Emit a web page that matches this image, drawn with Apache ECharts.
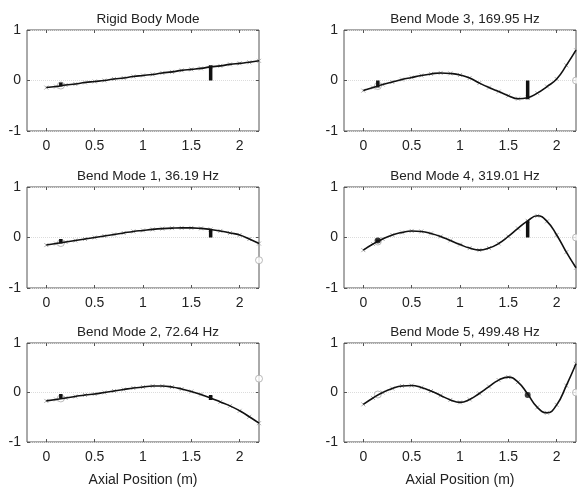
<!DOCTYPE html>
<html><head><meta charset="utf-8">
<script src="https://cdn.jsdelivr.net/npm/echarts@6/dist/echarts.min.js"></script>
<style>html,body{margin:0;padding:0;background:#fff}#c{width:577px;height:488px}</style>
</head><body><div id="c"></div>
<script>
// Axial positions (m) at which mode shapes were read
const xPos = [0,0.1,0.2,0.3,0.4,0.5,0.6,0.7,0.8,0.9,1.0,1.1,1.2,1.3,1.4,1.5,1.6,1.7,1.8,1.9,2.0,2.1,2.2];
// Mode shape values
const rigidY = [-0.14,-0.12,-0.09,-0.07,-0.04,-0.02,0.0,0.03,0.05,0.08,0.10,0.12,0.15,0.17,0.20,0.22,0.24,0.27,0.29,0.32,0.34,0.36,0.39];
const mode1Y = [-0.15,-0.12,-0.09,-0.06,-0.03,0.0,0.03,0.06,0.09,0.12,0.14,0.16,0.175,0.185,0.19,0.19,0.18,0.16,0.13,0.09,0.05,-0.03,-0.12];
const mode2Y = [-0.17,-0.14,-0.11,-0.08,-0.05,-0.03,0.0,0.03,0.06,0.09,0.11,0.13,0.13,0.11,0.07,0.02,-0.04,-0.11,-0.19,-0.27,-0.37,-0.49,-0.62];
const mode3Y = [-0.2,-0.14,-0.08,-0.03,0.02,0.06,0.1,0.13,0.15,0.14,0.11,0.05,-0.05,-0.14,-0.22,-0.3,-0.36,-0.34,-0.25,-0.12,0.03,0.3,0.6];
const mode4Y = [-0.25,-0.13,-0.03,0.05,0.1,0.13,0.12,0.08,0.02,-0.06,-0.14,-0.21,-0.25,-0.21,-0.12,0.02,0.18,0.33,0.43,0.32,0.05,-0.29,-0.6];
const mode5Y = [-0.24,-0.11,0.0,0.08,0.13,0.14,0.1,0.03,-0.06,-0.15,-0.2,-0.14,-0.02,0.12,0.25,0.31,0.21,-0.03,-0.3,-0.41,-0.25,0.14,0.58];

const titles = ['Rigid Body Mode','Bend Mode 1, 36.19 Hz','Bend Mode 2, 72.64 Hz','Bend Mode 3, 169.95 Hz','Bend Mode 4, 319.01 Hz','Bend Mode 5, 499.48 Hz'];
const modes = [rigidY, mode1Y, mode2Y, mode3Y, mode4Y, mode5Y];
const xTicks = [0,0.5,1,1.5,2];
const yTicks = [-1,0,1];
const xLabel = 'Axial Position (m)';

// Sensor bars [x, low, high] per mode
const sensorBars = [
  [[0.15,-0.12,-0.04],[1.7,0.0,0.3]],
  [[0.15,-0.12,-0.03],[1.7,0.0,0.17]],
  [[0.15,-0.12,-0.03],[1.7,-0.15,-0.05]],
  [[0.15,-0.14,0.0],[1.7,-0.37,0.0]],
  [[0.15,-0.09,-0.04],[1.7,0.0,0.33]],
  []
];
// Black filled dots [x, y]
const blackDots = [[], [], [], [], [[0.15,-0.06]], [[1.7,-0.05]]];
// Gray vertical lines at the end [x, low, high]
const edgeLines = [[], [[2.2,-0.55,0.0]], [[2.2,-0.6,0.9]], [], [], []];
// Gray open circles [x, y]
const grayCircles = [
  [[0.15,-0.1]],
  [[0.15,-0.11],[2.2,-0.45]],
  [[0.15,-0.12],[2.2,0.28]],
  [[0.15,-0.11],[2.2,0.0]],
  [[0.15,-0.08],[2.2,0.0]],
  [[0.15,-0.04],[2.2,0.0]]
];

// layout: [left, top, width, height] for each mode
const layout = [
  [27,30,232,101],[27,187,232,101],[27,343,232,103],
  [344,30,232,101],[344,187,232,101],[344,343,232,103]
];

const FONT = 'Liberation Sans, Arial, sans-serif';
const grid=[], xAxis=[], yAxis=[], series=[], title=[];
const xMark = 'path://M0,0L10,10M10,0L0,10';
layout.forEach((g,i)=>{
  const [l,t,w,h]=g;
  grid.push({left:l,top:t,width:w,height:h,show:true,borderColor:'#555',borderWidth:1,backgroundColor:'#fff'});
  title.push({text:titles[i],left:l+w/2,top:t-23,textAlign:'center',textStyle:{fontFamily:FONT,fontSize:13.5,fontWeight:'normal',color:'#222'}});
  const isBottom = (i===2||i===5);
  xAxis.push({type:'value',gridIndex:i,min:-0.2,max:2.2,position:'bottom',
    axisLine:{show:false,onZero:false},
    axisTick:{show:true,inside:true,length:3,customValues:xTicks,lineStyle:{color:'#555'}},
    axisLabel:{show:true,customValues:xTicks,margin:8,fontFamily:FONT,fontSize:14,color:'#222',formatter:v=>String(v)},
    splitLine:{show:false},
    name:isBottom?xLabel:'',nameLocation:'middle',nameGap:31,nameTextStyle:{fontFamily:FONT,fontSize:14,color:'#222'}});
  xAxis.push({type:'value',gridIndex:i,min:-0.2,max:2.2,position:'top',
    axisLine:{show:false,onZero:false},
    axisTick:{show:true,inside:true,length:3,customValues:xTicks,lineStyle:{color:'#555'}},
    axisLabel:{show:false},splitLine:{show:false}});
  yAxis.push({type:'value',gridIndex:i,min:-1,max:1,interval:1,position:'left',
    axisLine:{show:false,onZero:false},
    axisTick:{show:true,inside:true,length:3,lineStyle:{color:'#555'}},
    axisLabel:{show:true,margin:6,fontFamily:FONT,fontSize:14,color:'#222'},
    splitLine:{show:true,lineStyle:{color:'#dcdcdc',type:'dotted',width:1}}});
  yAxis.push({type:'value',gridIndex:i,min:-1,max:1,interval:1,position:'right',
    axisLine:{show:false,onZero:false},
    axisTick:{show:true,inside:true,length:3,lineStyle:{color:'#555'}},
    axisLabel:{show:false},splitLine:{show:false}});
  const data = xPos.map((x,k)=>[x,modes[i][k]]);
  const xi=2*i, yi=2*i;
  edgeLines[i].forEach(b=>{
    series.push({type:'line',xAxisIndex:xi,yAxisIndex:yi,data:[[b[0],b[1]],[b[0],b[2]]],symbol:'none',silent:true,
      lineStyle:{color:'#aaa',width:1.5},z:2});
  });
  series.push({type:'scatter',xAxisIndex:xi,yAxisIndex:yi,data:data,symbol:xMark,symbolSize:4,silent:true,
    itemStyle:{color:'none',borderColor:'#999',borderWidth:1},z:3});
  series.push({type:'scatter',xAxisIndex:xi,yAxisIndex:yi,data:grayCircles[i],symbol:'circle',symbolSize:7,silent:true,
    itemStyle:{color:'#fff',borderColor:'#aaa',borderWidth:1},z:3});
  series.push({type:'line',xAxisIndex:xi,yAxisIndex:yi,data:data,symbol:'none',smooth:0.5,silent:true,
    lineStyle:{color:'#111',width:1.6},z:4});
  sensorBars[i].forEach(b=>{
    series.push({type:'line',xAxisIndex:xi,yAxisIndex:yi,data:[[b[0],b[1]],[b[0],b[2]]],symbol:'none',silent:true,
      lineStyle:{color:'#111',width:3.5,cap:'butt'},z:5});
  });
  series.push({type:'scatter',xAxisIndex:xi,yAxisIndex:yi,data:blackDots[i],symbol:'circle',symbolSize:6,silent:true,
    itemStyle:{color:'#111'},z:6});
});

const chart = echarts.init(document.getElementById('c'),null,{renderer:'canvas'});
chart.setOption({animation:false,backgroundColor:'#fff',title,grid,xAxis,yAxis,series});
</script></body></html>
